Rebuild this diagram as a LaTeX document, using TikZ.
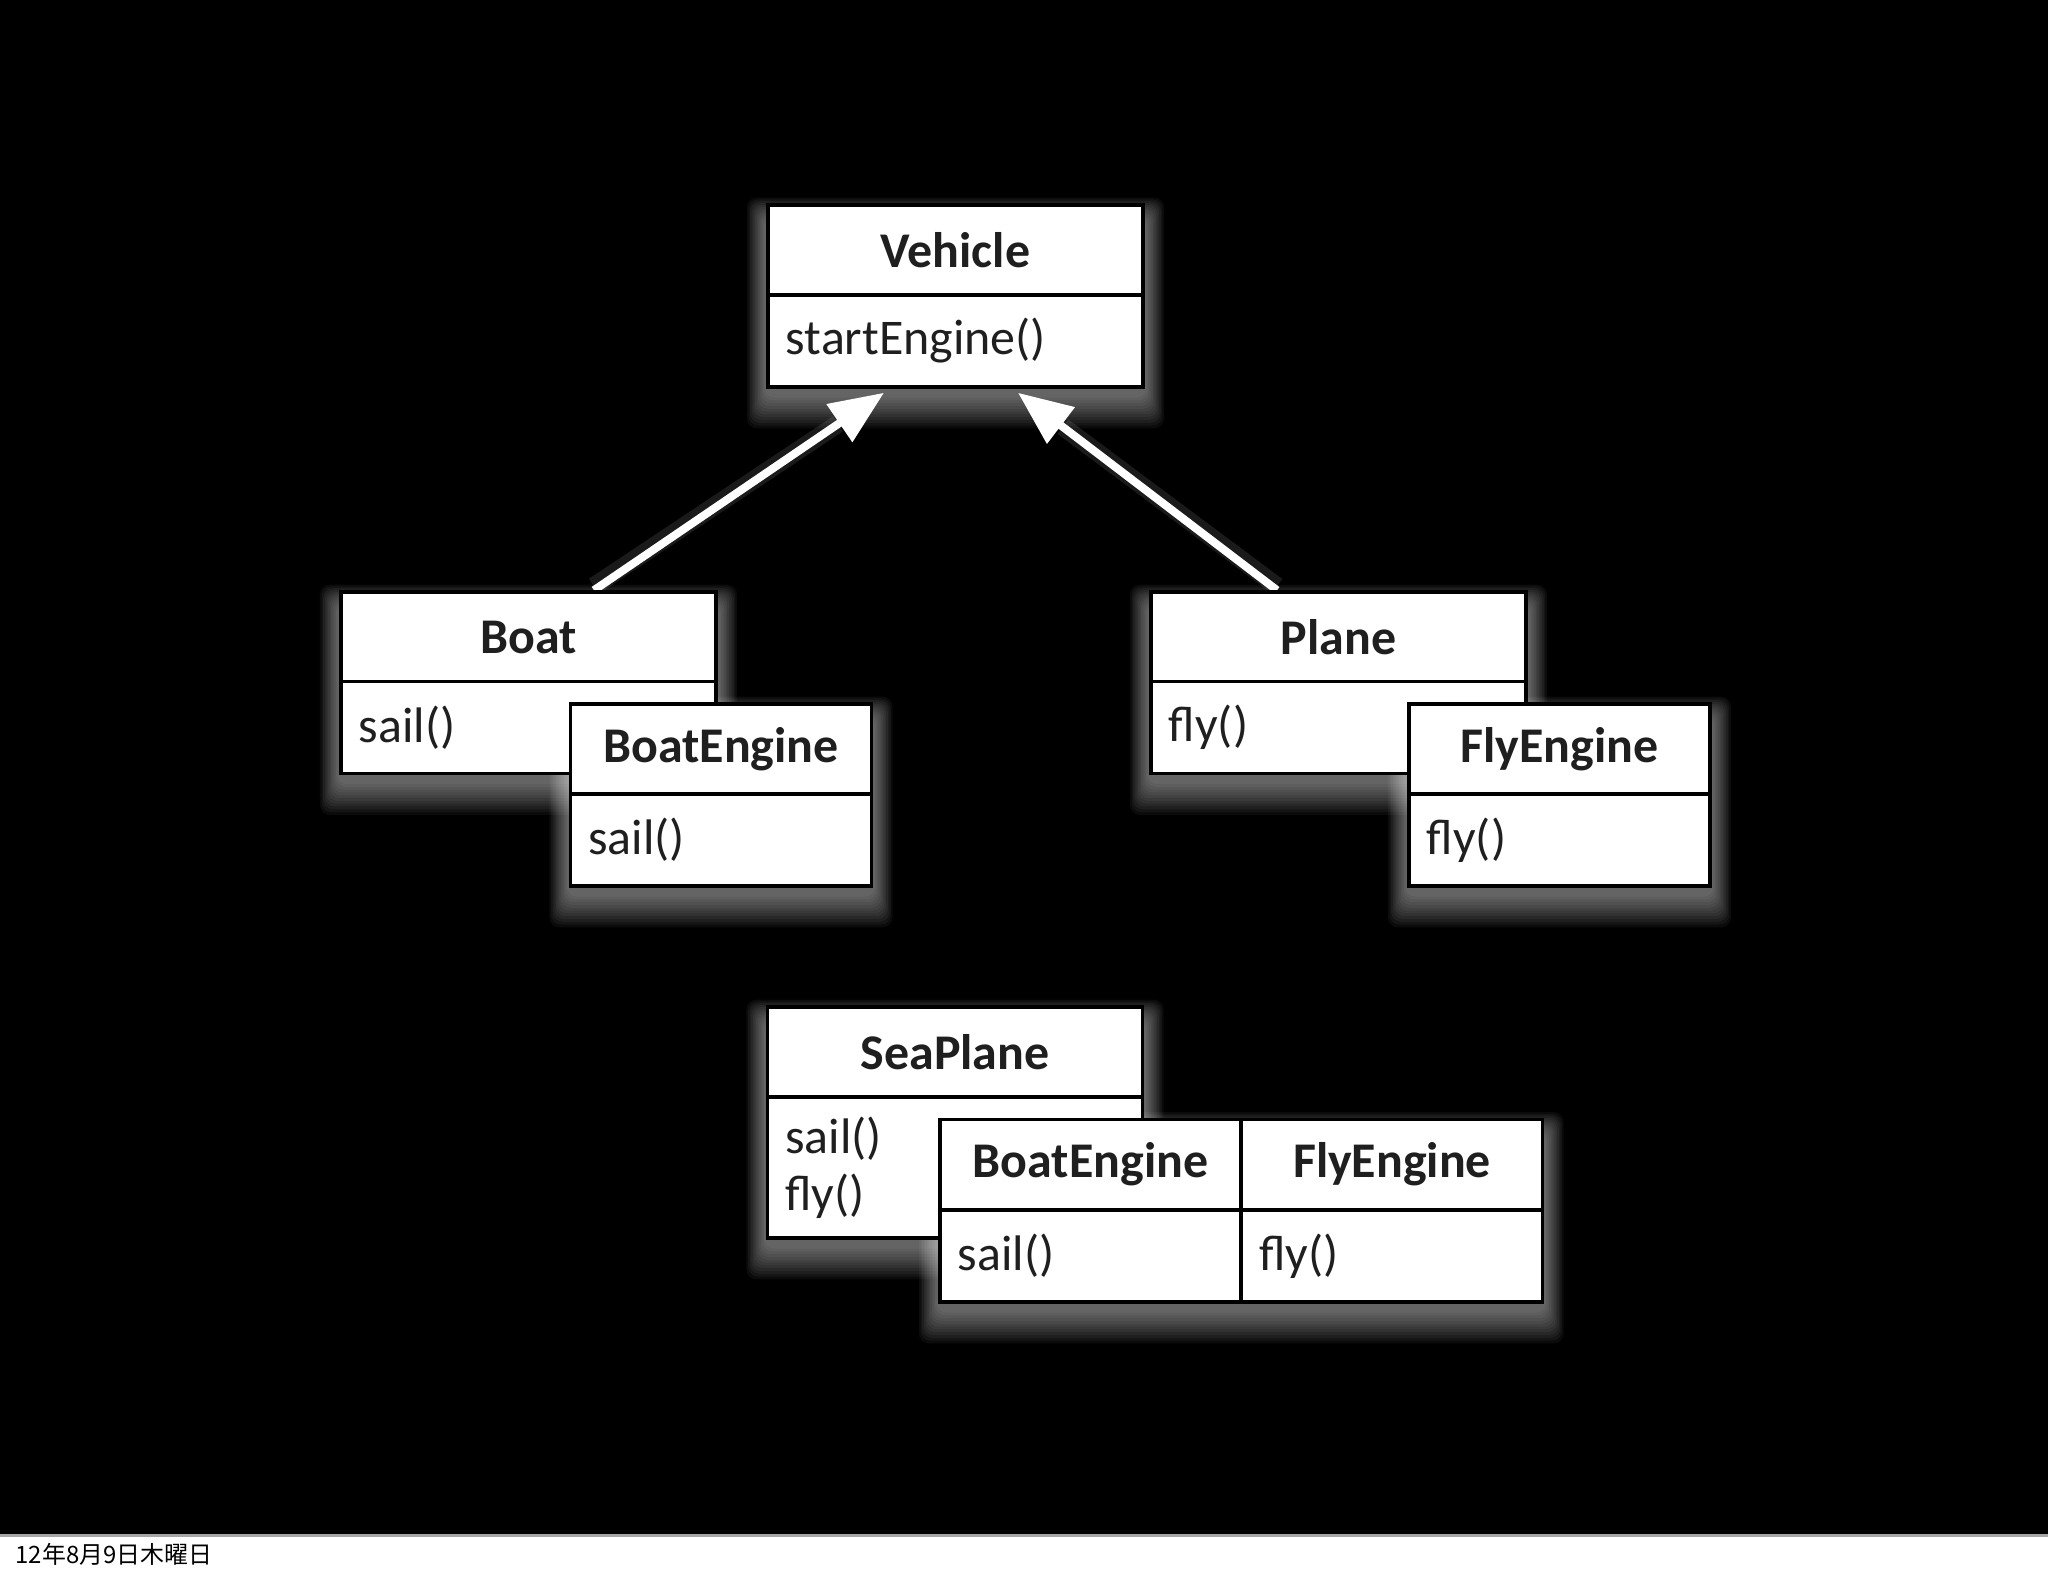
\documentclass[tikz,border=0pt]{standalone}
\usepackage{fontspec}
\setmainfont{Carlito}
\newfontfamily\cjk{Noto Sans CJK JP}
\usetikzlibrary{arrows.meta,calc}
\pgfdeclarelayer{bg}
\pgfsetlayers{bg,main}
\newcommand\glowgroup[2]{%
  \foreach \k in {1,...,12}{%
    \fill[white, opacity=0.042, rounded corners=0.1cm]
      ($(#1)+(-\k*1.6,16-\k*1.8)$) rectangle ($(#2)+(\k*1.6,6+\k*2.8)$);
  }}
\begin{document}
\begin{tikzpicture}[x=0.01cm,y=-0.01cm,
  box/.style={draw=black, fill=white, line width=1pt, inner sep=0pt, text=black!88},
  ttl/.style={box, minimum height=0.9cm, font=\fontsize{14.2pt}{17pt}\selectfont\bfseries},
  mth/.style={box, minimum height=0.92cm, align=left, inner xsep=0.18cm, inner ysep=0pt,
              font=\fontsize{14.2pt}{16.2pt}\selectfont},
  wA/.style={minimum width=3.75cm},
  mA/.style={text width=3.39cm},
  wB/.style={minimum width=3.01cm},
  mB/.style={text width=2.65cm},
  arr/.style={draw=white, line width=0.08cm, -{Triangle[length=0.54cm,width=0.44cm]}},
  arrglow/.style={draw=white, line width=0.18cm, opacity=0.1},
]
\useasboundingbox (0,0) rectangle (2048,1576);

% class boxes
\node[ttl,wA] (vehT) at (955.5,250) {Vehicle};
\node[mth,mA] (vehM) at (955.5,341) {startEngine()};

\node[ttl,wA] (boatT) at (528.5,637) {Boat};
\node[mth,mA] (boatM) at (528.5,727.5) {sail()};
\node[ttl,wB] (beT) at (721,749) {BoatEngine};
\node[mth,mB] (beM) at (721,840) {sail()};

\node[ttl,wA] (planeT) at (1338.5,637) {Plane};
\node[mth,mA] (planeM) at (1338.5,727.5) {fly()};
\node[ttl,wB] (feT) at (1559.5,749) {FlyEngine};
\node[mth,mB] (feM) at (1559.5,840) {fly()};

\node[ttl,wA] (seaT) at (955,1052) {SeaPlane};
\node[mth,mA,minimum height=1.41cm] (seaM) at (955,1167.5) {sail()\\fly()};
\node[ttl,wB] (be2T) at (1090.5,1164.5) {BoatEngine};
\node[mth,mB] (be2M) at (1090.5,1256) {sail()};
\node[ttl,wB] (fe2T) at (1392,1164.5) {FlyEngine};
\node[mth,mB] (fe2M) at (1392,1256) {fly()};

\node[anchor=base west, inner sep=0pt, text=black, font=\cjk\fontsize{6.8pt}{8pt}\selectfont] (date) at (15,1563) {12年8月9日木曜日};

\begin{pgfonlayer}{bg}
  \fill[white] (0,0) rectangle (2048,1576);
  \fill[black] (0,0) rectangle (2048,1534);
  \draw[gray!70, line width=0.03cm] (0,1535) -- (2048,1535);
  \glowgroup{vehT.north west}{vehM.south east}
  \glowgroup{boatT.north west}{boatM.south east}
  \glowgroup{beT.north west}{beM.south east}
  \glowgroup{planeT.north west}{planeM.south east}
  \glowgroup{feT.north west}{feM.south east}
  \glowgroup{seaT.north west}{seaM.south east}
  \glowgroup{be2T.north west}{fe2M.south east}
  \draw[arrglow] ($(boatT.north)+(65.5,-4)$) -- ($(vehM.south)+(-117.5,35)$);
  \draw[arrglow] ($(planeT.north)+(-61.5,-4)$) -- ($(vehM.south)+(107.5,38)$);
  \draw[arr] ($(boatT.north)+(65.5,0)$) -- ($(vehM.south)+(-71.5,4)$);
  \draw[arr] ($(planeT.north)+(-61.5,0)$) -- ($(vehM.south)+(62.5,4)$);
\end{pgfonlayer}
\end{tikzpicture}
\end{document}
